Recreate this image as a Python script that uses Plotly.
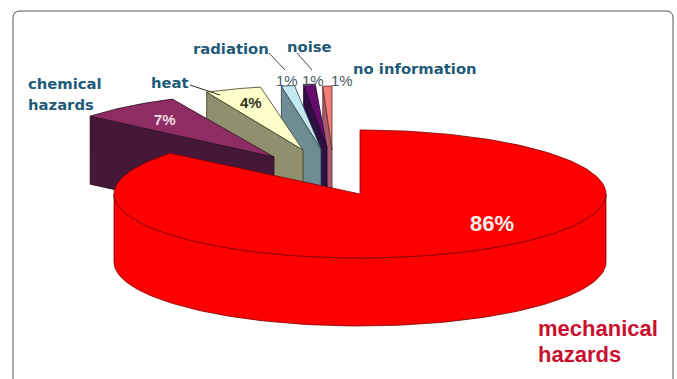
import numpy as np
import plotly.graph_objects as go

# Share of each hazard group, in percent, clockwise from twelve o'clock
hazards = ["mechanical hazards", "chemical hazards", "heat", "radiation", "noise", "no information"]
shares = [86, 7, 4, 1, 1, 1]
share_labels = ["86%", "7%", "4%", "1%", "1%", "1%"]

# Pie projection on a page-sized plane
CENTER = (360, 194)
RX, RY = 246, 64
DEPTH = 68

# Exploded wedge placement: tip position and horizontal radius scale per wedge
tips = [(360, 194), (274, 157), (303, 150), (321, 149), (327, 148), (332, 150)]
scales = [1.0, 0.97, 0.92, 0.86, 0.76, 0.6]
top_colors = ["#ff0000", "#8e2c63", "#ffffcc", "#c4e8f0", "#660a6e", "#ee8078"]
side_colors = ["#ff0000", "#45183a", "#90906e", "#6d8c94", "#2e0f42", "#a85c6c"]
edge_colors = ["#7a0000", "#2a1020", "#3a3a20", "#2f4448", "#1c0a28", "#5a2a30"]

INK = "#1f5a78"
RED_INK = "#c8102e"


def rim(theta, tip, scale=1.0, drop=0):
    """Project clockwise angles (degrees from top) onto the pie's ellipse."""
    t = np.radians(theta)
    return tip[0] + RX * scale * np.sin(t), tip[1] - RY * np.cos(t) + drop


def polygon(xs, ys, fill, line, width=0.8):
    return go.Scatter(
        x=list(xs), y=list(ys), mode="lines", fill="toself", fillcolor=fill,
        line=dict(color=line, width=width), hoverinfo="skip", showlegend=False,
    )


ends = np.cumsum(shares) * 3.6
starts = np.r_[0, ends[:-1]]

fig = go.Figure()

# Small wedges, painted from the back right towards the front left
for i in range(len(shares) - 1, 0, -1):
    tip, s = tips[i], scales[i]
    outer_x, outer_y = rim(starts[i], tip, s)
    side_x = [outer_x, tip[0], tip[0], outer_x, outer_x]
    side_y = [outer_y, tip[1], tip[1] + DEPTH, outer_y + DEPTH, outer_y]
    fig.add_trace(polygon(side_x, side_y, side_colors[i], edge_colors[i]))
    arc_x, arc_y = rim(np.linspace(starts[i], ends[i], 30), tip, s)
    fig.add_trace(polygon([tip[0], *arc_x, tip[0]], [tip[1], *arc_y, tip[1]],
                          top_colors[i], edge_colors[i]))

# Main wedge: front wall first, then the top face
wall = np.linspace(90, 270, 120)
wx, wy = rim(wall, CENTER)
bx, by = rim(wall[::-1], CENTER, drop=DEPTH)
fig.add_trace(polygon([*wx, *bx, wx[0]], [*wy, *by, wy[0]], side_colors[0], edge_colors[0]))
arc_x, arc_y = rim(np.linspace(starts[0], ends[0], 240), CENTER)
fig.add_trace(polygon([CENTER[0], *arc_x, CENTER[0]], [CENTER[1], *arc_y, CENTER[1]],
                      top_colors[0], edge_colors[0]))

# Leader lines from the names to their wedges
leaders = [((190, 85), (220, 95), "#303020"), ((269, 53), (285, 70), "#404850"), ((297, 53), (312, 70), "#404850")]
for a, b, c in leaders:
    fig.add_trace(go.Scatter(x=[a[0], b[0]], y=[a[1], b[1]], mode="lines",
                             line=dict(color=c, width=1), hoverinfo="skip", showlegend=False))


def text(x, y, s, size, color, anchor="left", family="Liberation Sans"):
    fig.add_annotation(x=x, y=y, text=s, showarrow=False, xanchor=anchor, yanchor="middle",
                       align="left", xshift=-1 if anchor == "left" else 0,
                       font=dict(family=family, size=size, color=color))


def bold(s):
    return f"<b>{s}</b>"


WIDE = "DejaVu Sans"
text(27, 83, bold("chemical"), 14.8, INK, family=WIDE)
text(27, 104, bold("hazards"), 14.8, INK, family=WIDE)
text(150, 82, bold(hazards[2]), 14.8, INK, family=WIDE)
text(192, 48, bold(hazards[3]), 14.8, INK, family=WIDE)
text(286, 46, bold(hazards[4]), 14.8, INK, family=WIDE)
text(352, 68, bold(hazards[5]), 14.8, INK, family=WIDE)
text(537, 328, bold("mechanical"), 22, RED_INK)
text(537, 354, bold("hazards"), 22, RED_INK)

text(492, 223, bold(share_labels[0]), 22, "#f4efe8", "center")
text(165, 119, bold(share_labels[1]), 15, "#ecdde4", "center")
text(251, 102, bold(share_labels[2]), 15, "#333322", "center")
text(287, 80, share_labels[3], 15, "#4a5a62", "center")
text(313, 80, share_labels[4], 15, "#4a5a62", "center")
text(342, 80, share_labels[5], 15, "#4a5a62", "center")

# Rounded panel border; its lower edge runs past the page bottom
frame = "M13,400 L13,18 Q13,11 20,11 L666,11 Q673,11 673,18 L673,400"
fig.update_layout(
    width=677, height=379, margin=dict(l=0, r=0, t=0, b=0),
    paper_bgcolor="white", plot_bgcolor="white", showlegend=False,
    xaxis=dict(range=[0, 677], visible=False, fixedrange=True),
    yaxis=dict(range=[379, 0], visible=False, fixedrange=True),
    shapes=[dict(type="path", path=frame, line=dict(color="#555555", width=1), layer="below")],
)
fig.write_html("out.html", config={"displayModeBar": False})
